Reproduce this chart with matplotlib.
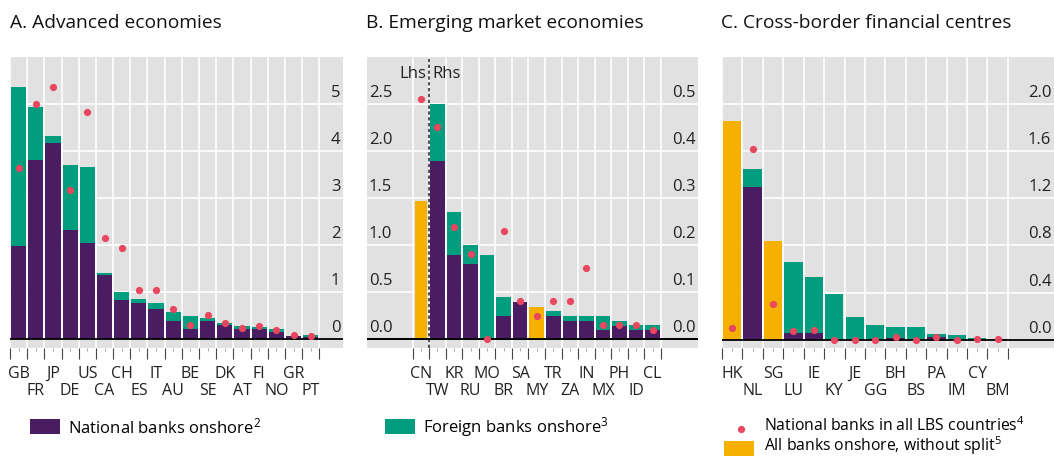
import matplotlib
matplotlib.use("Agg")
import matplotlib.pyplot as plt
import matplotlib.transforms as mtransforms
from matplotlib.patches import Rectangle
from matplotlib.lines import Line2D

plt.rcParams['font.family'] = ['Open Sans', 'DejaVu Sans']
plt.rcParams['mathtext.fontset'] = 'custom'
plt.rcParams['mathtext.rm'] = 'Open Sans'
plt.rcParams['mathtext.default'] = 'regular'

PURPLE = '#4a1d63'
GREEN = '#009e7e'
RED = '#e8475f'
YELLOW = '#f5b000'
BG = '#e1e1e1'

# A. Advanced economies
adv_names = ["GB", "FR", "JP", "DE", "US", "CA", "CH", "ES", "IT", "AU",
             "BE", "SE", "DK", "AT", "FI", "NO", "GR", "PT"]
adv_national = [1.98, 3.80, 4.18, 2.32, 2.04, 1.36, 0.83, 0.77, 0.64, 0.39,
                0.22, 0.39, 0.30, 0.22, 0.22, 0.16, 0.07, 0.05]
adv_foreign = [3.39, 1.14, 0.15, 1.39, 1.63, 0.05, 0.17, 0.08, 0.13, 0.19,
               0.27, 0.06, 0.05, 0.06, 0.03, 0.06, 0.0, 0.04]
adv_lbs = [3.64, 4.99, 5.37, 3.18, 4.83, 2.15, 1.94, 1.05, 1.04, 0.65,
           0.30, 0.52, 0.35, 0.24, 0.28, 0.19, 0.09, 0.06]

# B. Emerging market economies (CN on lhs, rest on rhs)
eme_names = ["CN", "TW", "KR", "RU", "MO", "BR", "SA", "MY", "TR", "ZA",
             "IN", "MX", "PH", "ID", "CL"]
eme_national = [0, 0.378, 0.179, 0.160, 0, 0.050, 0.079, 0, 0.050, 0.039,
                0.039, 0.020, 0.028, 0.020, 0.020]
eme_foreign = [0, 0.121, 0.091, 0.040, 0.179, 0.040, 0.0, 0, 0.010, 0.010,
               0.010, 0.029, 0.011, 0.010, 0.010]
eme_nosplit = [1.465, 0, 0, 0, 0, 0, 0, 0.068, 0, 0, 0, 0, 0, 0, 0]
eme_lbs = [2.55, 0.450, 0.239, 0.180, 0.0, 0.230, 0.080, 0.050, 0.080, 0.080,
           0.150, 0.030, 0.030, 0.030, 0.020]

# C. Cross-border financial centres
cfc_names = ["HK", "NL", "SG", "LU", "IE", "KY", "JE", "GG", "BH", "BS",
             "PA", "IM", "CY", "BM"]
cfc_national = [0, 1.297, 0, 0.059, 0.059, 0, 0, 0, 0.011, 0, 0.020, 0, 0.006, 0]
cfc_foreign = [0, 0.152, 0, 0.602, 0.475, 0.390, 0.195, 0.127, 0.099, 0.110,
               0.031, 0.042, 0.011, 0.008]
cfc_nosplit = [1.856, 0, 0.839, 0, 0, 0, 0, 0, 0, 0, 0, 0, 0, 0]
cfc_lbs = [0.096, 1.621, 0.305, 0.076, 0.085, 0.0, 0.0, 0.0, 0.025, 0.0,
           0.023, 0.0, 0.003, 0.008]

W, H = 1054, 457
fig = plt.figure(figsize=(W / 100, H / 100), dpi=100)


def px_axes(x0, x1, y0=57, y1=348):
    return fig.add_axes([x0 / W, 1 - y1 / H, (x1 - x0) / W, (y1 - y0) / H])


def style_axes(ax, n, xlim, ylim, yticks):
    ax.set_facecolor(BG)
    ax.set_xlim(*xlim)
    ax.set_ylim(*ylim)
    for s in ax.spines.values():
        s.set_visible(False)
    ax.set_yticks([])
    bounds = [i - 0.5 for i in range(n + 1)]
    for b in bounds:
        ax.axvline(b, color='white', lw=1.2, zorder=0.5)
    for t in yticks:
        ax.axhline(t, color='white', lw=1.2, zorder=0.5)
    ax.axhline(0, color='black', lw=1.3, zorder=3)
    ax.set_xticks(bounds)
    ax.set_xticklabels([])
    ax.set_xticks(range(n), minor=True)
    ax.tick_params(axis='x', which='major', length=8, width=0.8, color='#444444', direction='out')
    ax.tick_params(axis='x', which='minor', length=2, width=0.6, color='#999999', direction='out')


def xlabels(ax, names):
    tr = mtransforms.blended_transform_factory(ax.transData, ax.transAxes)
    for i, nm in enumerate(names):
        y = -0.088 if i % 2 == 0 else -0.148
        ax.text(i, y, nm, transform=tr, ha='center', va='center', fontsize=11.5, color='#222222')


def ylabels(ax, ticks, fmt, side):
    tr = mtransforms.blended_transform_factory(ax.transAxes, ax.transData)
    tr = mtransforms.offset_copy(tr, fig=fig, x=0, y=11, units='dots')
    for t in ticks:
        if side == 'right':
            ax.text(0.992, t, fmt.format(t), transform=tr, ha='right', va='center',
                    fontsize=12, color='#222222', zorder=4)
        else:
            ax.text(0.005, t, fmt.format(t), transform=tr, ha='left', va='center',
                    fontsize=12, color='#222222', zorder=4)


def stacked(ax, x, nat, forg, nosplit, lbs, width=0.88):
    ax.bar(x, nat, width=width, color=PURPLE, zorder=2)
    ax.bar(x, forg, bottom=nat, width=width, color=GREEN, zorder=2)
    if nosplit is not None:
        ax.bar(x, nosplit, width=width, color=YELLOW, zorder=2)
    ax.plot(x, lbs, 'o', color=RED, ms=5.2, mec='none', zorder=5)


# Panel A
axA = px_axes(10, 343)
n = len(adv_names)
style_axes(axA, n, (-0.5, 18.88), (-0.19, 6.0), [1, 2, 3, 4, 5])
stacked(axA, list(range(n)), adv_national, adv_foreign, None, adv_lbs)
xlabels(axA, adv_names)
ylabels(axA, [0, 1, 2, 3, 4, 5], "{:.0f}", 'right')

# Panel B
axB = px_axes(367, 698)
n = len(eme_names)
style_axes(axB, n, (-3.26, 16.75), (-0.095, 2.995), [0.5, 1.0, 1.5, 2.0, 2.5])
axB2 = axB.twinx()
axB2.set_ylim(-0.019, 0.599)
axB2.set_yticks([])
for s in axB2.spines.values():
    s.set_visible(False)
axB.bar([0], eme_nosplit[:1], width=0.72, color=YELLOW, zorder=2)
axB.plot([0], eme_lbs[:1], 'o', color=RED, ms=5.2, mec='none', zorder=5)
xs = list(range(1, n))
stacked(axB2, xs, eme_national[1:], eme_foreign[1:], eme_nosplit[1:], eme_lbs[1:])
axB2.axhline(0, color='black', lw=1.3, zorder=3)
axB.axvline(0.5, color='#333333', lw=1.2, ls=(0, (2, 1.5)), zorder=6)
trB = mtransforms.blended_transform_factory(axB.transData, axB.transAxes)
axB.text(0.33, 0.94, "Lhs", transform=trB, ha='right', va='center', fontsize=12, color='#222222')
axB.text(0.67, 0.94, "Rhs", transform=trB, ha='left', va='center', fontsize=12, color='#222222')
xlabels(axB, eme_names)
ylabels(axB, [0.0, 0.5, 1.0, 1.5, 2.0, 2.5], "{:.1f}", 'left')
ylabels(axB2, [0.0, 0.1, 0.2, 0.3, 0.4, 0.5], "{:.1f}", 'right')

# Panel C
axC = px_axes(722, 1054)
n = len(cfc_names)
style_axes(axC, n, (-0.5, 15.76), (-0.071, 2.40), [0.4, 0.8, 1.2, 1.6, 2.0])
stacked(axC, list(range(n)), cfc_national, cfc_foreign, cfc_nosplit, cfc_lbs, width=0.9)
xlabels(axC, cfc_names)
ylabels(axC, [0.0, 0.4, 0.8, 1.2, 1.6, 2.0], "{:.1f}", 'right')

# Titles
for x, t in [(10, "A. Advanced economies"), (366, "B. Emerging market economies"),
             (721, "C. Cross-border financial centres")]:
    fig.text(x / W, 1 - 23 / H, t, ha='left', va='center', fontsize=13.8, color='#111111')

# Legend
def sq(x0, y0, x1, y1, c):
    fig.add_artist(Rectangle((x0 / W, 1 - y1 / H), (x1 - x0) / W, (y1 - y0) / H,
                             transform=fig.transFigure, color=c, lw=0))

sq(30, 419, 60, 434, PURPLE)
fig.text(68 / W, 1 - 427 / H, r"National banks onshore$^{2}$", ha='left', va='center', fontsize=12)
sq(385, 419, 415, 434, GREEN)
fig.text(423 / W, 1 - 427 / H, r"Foreign banks onshore$^{3}$", ha='left', va='center', fontsize=12)
fig.add_artist(Line2D([741 / W], [1 - 429 / H], marker='o', color=RED, ms=5.2, mec='none',
                      transform=fig.transFigure))
fig.text(764 / W, 1 - 426 / H, r"National banks in all LBS countries$^{4}$", ha='left', va='center', fontsize=11.3)
sq(724, 441, 754, 456, YELLOW)
fig.text(764 / W, 1 - 446 / H, r"All banks onshore, without split$^{5}$", ha='left', va='center', fontsize=11.3)

fig.savefig("out.png", dpi=100)
